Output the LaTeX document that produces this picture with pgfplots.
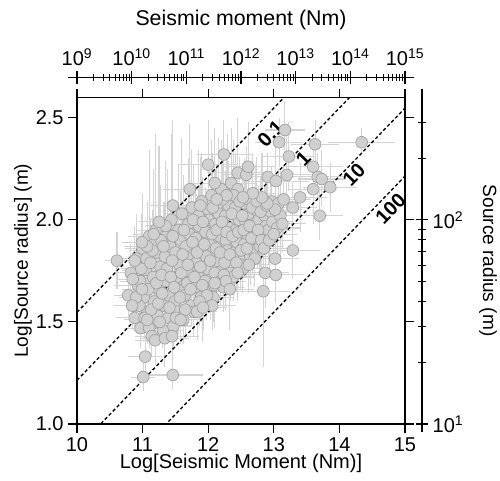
\documentclass[border=0pt]{standalone}
\usepackage{pgfplots}
\pgfplotsset{compat=1.18}
\usepackage{pgfplotstable}
\usepackage{fontspec}
\setmainfont{Liberation Sans}

\definecolor{ptfill}{RGB}{208,208,208}
\definecolor{ptedge}{RGB}{160,160,160}
\definecolor{errgray}{RGB}{212,212,212}
\newcommand{\tickfont}{\fontsize{15}{18}\selectfont}
\newcommand{\labfont}{\fontsize{14.3}{17}\selectfont}

% log moment, log radius, errors
\pgfplotstableread{
x y ex ey
10.78 1.63 0.15 0.08
10.82 1.74 0.20 0.12
10.86 1.58 0.25 0.06
10.91 1.81 0.18 0.20
10.93 1.68 0.30 0.10
10.88 1.52 0.22 0.05
10.97 1.47 0.20 0.08
11.02 1.62 0.25 0.15
11.05 1.75 0.30 0.10
11.00 1.86 0.20 0.25
11.08 1.55 0.18 0.07
11.04 1.70 0.22 0.18
11.10 1.92 0.26 0.40
11.06 1.81 0.35 0.12
11.14 1.49 0.20 0.06
11.18 1.60 0.30 0.12
11.16 1.72 0.25 0.20
11.22 1.84 0.28 0.15
11.20 1.95 0.22 0.45
11.25 1.66 0.30 0.10
11.23 1.53 0.20 0.08
11.27 1.77 0.35 0.22
11.19 1.89 0.20 0.12
11.31 1.46 0.25 0.07
11.33 1.58 0.30 0.10
11.36 1.70 0.22 0.15
11.34 1.82 0.28 0.25
11.38 1.93 0.30 0.30
11.40 1.63 0.25 0.12
11.37 1.76 0.20 0.10
11.42 1.87 0.32 0.20
11.39 1.52 0.20 0.06
11.44 2.00 0.25 0.40
11.47 1.48 0.20 0.08
11.49 1.60 0.30 0.12
11.52 1.72 0.25 0.18
11.50 1.84 0.35 0.20
11.55 1.95 0.28 0.30
11.53 1.66 0.22 0.10
11.56 1.78 0.30 0.15
11.58 1.90 0.25 0.22
11.54 1.55 0.30 0.09
11.60 2.03 0.20 0.35
11.62 1.51 0.25 0.10
11.64 1.63 0.30 0.12
11.67 1.75 0.22 0.20
11.66 1.87 0.30 0.18
11.70 1.98 0.28 0.30
11.68 1.69 0.25 0.15
11.72 1.81 0.32 0.12
11.71 1.93 0.20 0.20
11.74 1.58 0.28 0.08
11.75 2.06 0.30 0.26
11.78 1.55 0.25 0.10
11.80 1.67 0.30 0.14
11.82 1.79 0.20 0.20
11.81 1.91 0.30 0.25
11.85 2.02 0.26 0.30
11.84 1.73 0.28 0.12
11.87 1.85 0.33 0.15
11.86 1.97 0.22 0.18
11.89 1.62 0.30 0.10
11.90 2.09 0.25 0.22
11.93 1.58 0.25 0.10
11.95 1.70 0.30 0.12
11.97 1.82 0.22 0.22
11.96 1.94 0.30 0.20
12.00 2.05 0.28 0.28
11.99 1.76 0.30 0.15
12.02 1.88 0.25 0.16
12.01 2.00 0.22 0.20
12.04 1.65 0.28 0.12
12.05 2.12 0.30 0.25
12.08 1.62 0.25 0.10
12.10 1.74 0.30 0.14
12.12 1.86 0.22 0.20
12.11 1.98 0.30 0.25
12.15 2.08 0.26 0.30
12.14 1.80 0.28 0.12
12.17 1.92 0.33 0.15
12.16 2.03 0.22 0.18
12.19 1.70 0.30 0.10
12.20 2.15 0.25 0.22
12.23 1.67 0.25 0.10
12.25 1.79 0.30 0.12
12.27 1.90 0.22 0.22
12.26 2.02 0.30 0.20
12.30 2.12 0.28 0.28
12.29 1.85 0.30 0.15
12.32 1.96 0.25 0.16
12.31 2.07 0.22 0.20
12.34 1.74 0.28 0.12
12.35 2.18 0.30 0.25
12.38 1.72 0.25 0.10
12.40 1.84 0.30 0.14
12.42 1.95 0.22 0.20
12.41 2.06 0.30 0.25
12.45 2.15 0.26 0.30
12.44 1.89 0.28 0.12
12.47 2.00 0.33 0.15
12.49 1.78 0.30 0.10
12.53 1.76 0.25 0.10
12.55 1.88 0.30 0.12
12.57 1.99 0.22 0.22
12.56 2.08 0.30 0.20
12.60 1.93 0.28 0.15
12.62 2.03 0.25 0.16
12.64 1.82 0.28 0.12
12.68 1.85 0.25 0.10
12.70 1.96 0.30 0.14
12.72 2.05 0.22 0.20
12.75 1.90 0.28 0.12
12.77 2.00 0.33 0.15
12.79 1.87 0.30 0.10
12.83 1.93 0.25 0.10
12.86 2.02 0.30 0.12
12.88 1.97 0.22 0.22
12.92 1.95 0.28 0.15
12.95 2.04 0.25 0.16
12.98 1.99 0.25 0.10
13.05 1.96 0.30 0.14
13.10 2.02 0.22 0.20
10.95 1.58 0.20 0.10
10.98 1.76 0.25 0.12
11.03 1.52 0.20 0.08
11.09 1.66 0.30 0.14
11.12 1.79 0.25 0.20
11.13 1.56 0.20 0.10
11.15 1.85 0.30 0.18
11.21 1.69 0.25 0.12
11.24 1.59 0.30 0.10
11.28 1.90 0.25 0.25
11.29 1.73 0.20 0.15
11.30 1.64 0.28 0.10
11.32 1.87 0.30 0.20
11.35 1.97 0.25 0.30
11.41 1.57 0.30 0.10
11.43 1.72 0.25 0.15
11.45 1.80 0.30 0.18
11.46 1.92 0.25 0.22
11.48 1.67 0.30 0.12
11.51 1.52 0.25 0.08
11.57 1.62 0.30 0.12
11.59 1.74 0.22 0.15
11.61 1.83 0.30 0.20
11.63 1.95 0.25 0.25
11.65 1.56 0.30 0.10
11.69 1.78 0.25 0.15
11.73 1.66 0.30 0.12
11.76 1.89 0.25 0.18
11.77 2.00 0.30 0.25
11.79 1.72 0.25 0.12
11.83 1.84 0.30 0.15
11.88 1.77 0.25 0.15
11.91 1.68 0.30 0.12
11.92 1.99 0.25 0.20
11.94 1.88 0.30 0.18
11.98 1.63 0.25 0.10
12.03 1.80 0.30 0.15
12.06 1.93 0.25 0.20
12.07 2.06 0.30 0.25
12.09 1.68 0.25 0.12
12.13 1.95 0.30 0.15
12.18 1.84 0.25 0.15
12.21 1.99 0.30 0.20
12.22 2.10 0.25 0.22
12.24 1.73 0.30 0.12
12.28 1.94 0.25 0.15
12.33 1.83 0.30 0.15
12.36 2.03 0.25 0.20
12.37 1.92 0.30 0.15
12.39 2.12 0.25 0.25
12.43 1.79 0.30 0.12
12.46 1.94 0.25 0.15
12.48 2.09 0.30 0.20
12.50 1.85 0.25 0.12
12.52 2.02 0.30 0.18
12.54 1.95 0.25 0.15
12.59 1.86 0.30 0.12
12.61 2.10 0.25 0.20
12.63 1.97 0.30 0.15
12.66 1.91 0.25 0.12
12.67 2.06 0.30 0.18
12.71 1.81 0.25 0.12
12.74 2.09 0.30 0.20
12.76 1.95 0.25 0.15
12.80 2.04 0.30 0.15
12.81 1.90 0.25 0.12
12.85 1.86 0.30 0.12
12.89 2.07 0.25 0.15
12.93 1.90 0.30 0.12
12.97 2.09 0.25 0.15
13.00 1.93 0.30 0.12
13.07 2.08 0.25 0.15
13.13 1.98 0.30 0.12
13.15 2.10 0.35 0.15
11.10 1.47 0.20 0.08
11.26 1.50 0.25 0.08
11.58 1.51 0.30 0.10
11.87 1.60 0.25 0.10
12.06 1.58 0.30 0.10
12.27 1.70 0.25 0.12
12.45 1.74 0.30 0.12
12.62 1.78 0.25 0.12
10.90 1.62 0.20 0.10
10.96 1.70 0.25 0.12
11.07 1.87 0.30 0.20
11.17 1.93 0.25 0.30
10.61 1.80 0.12 0.12
10.85 1.71 0.20 0.10
10.99 1.66 0.25 0.08
10.88 1.80 0.18 0.15
10.99 1.89 0.25 0.12
10.84 1.58 0.20 0.10
11.25 1.99 0.25 0.35
11.46 2.07 0.30 0.40
11.72 2.15 0.35 0.30
12.00 2.27 0.40 0.20
12.10 2.18 0.30 0.25
12.24 2.32 0.35 0.15
12.45 2.23 0.40 0.25
12.58 2.22 0.30 0.12
12.61 2.26 0.35 0.20
12.91 2.21 0.30 0.10
13.03 2.19 0.45 0.15
13.08 2.38 0.30 0.10
13.17 2.44 0.25 0.12
13.20 2.22 0.40 0.18
13.23 2.31 0.35 0.15
13.63 2.37 0.30 0.10
13.60 2.26 0.40 0.12
13.40 2.11 0.35 0.15
13.29 2.06 0.30 0.10
13.02 2.05 0.35 0.12
12.90 2.08 0.30 0.15
12.82 2.11 0.35 0.20
12.68 2.13 0.30 0.18
12.53 2.11 0.35 0.15
12.28 2.12 0.30 0.20
12.13 2.10 0.25 0.15
11.88 2.07 0.30 0.22
14.34 2.38 0.45 0.05
13.67 2.21 0.35 0.10
13.73 2.20 0.30 0.12
13.86 2.16 0.35 0.10
13.60 2.15 0.30 0.15
13.70 2.02 0.30 0.10
12.84 1.65 0.35 0.35
12.87 1.74 0.30 0.15
13.03 1.73 0.35 0.12
13.02 1.81 0.30 0.10
13.29 1.85 0.35 0.12
11.83 1.55 0.25 0.12
11.92 1.57 0.30 0.15
12.10 1.69 0.30 0.20
12.33 1.66 0.30 0.18
11.04 1.33 0.20 0.08
11.01 1.23 0.12 0.05
11.46 1.24 0.40 0.05
11.07 1.51 0.30 0.10
11.14 1.43 0.20 0.08
11.19 1.41 0.25 0.10
11.34 1.42 0.30 0.12
11.45 1.43 0.35 0.10
}\quakes

\begin{document}
\begin{tikzpicture}
\useasboundingbox (-57.75pt,-42.75pt) rectangle (317.25pt,318pt);

% main panel
\begin{axis}[
    at={(0,0)}, anchor=south west,
    scale only axis, width=246pt, height=245pt,
    xmin=10, xmax=15, ymin=1, ymax=2.6,
    xtick={10,11,12,13,14,15}, ytick={1,1.5,2,2.5},
    yticklabel style={/pgf/number format/fixed, /pgf/number format/fixed zerofill, /pgf/number format/precision=1},
    /pgf/number format/assume math mode=true,
    tick align=outside, major tick length=6.5pt,
    tick style={black, line width=0.8pt},
    axis line style={line width=1.1pt},
    tick label style={font=\tickfont},
    label style={font=\labfont},
    xlabel={Log[Seismic Moment (Nm)]},
    ylabel={Log[Source radius] (m)},
    xlabel style={font=\tickfont, at={(axis description cs:0.5,-0.1194)}, anchor=center},
    ylabel style={at={(axis description cs:-0.1646,0.5)}, anchor=center},
]
\addplot[only marks, mark=*, mark size=4.4pt,
    mark options={fill=ptfill, draw=ptedge, line width=0.5pt},
    error bars/.cd, x dir=both, x explicit, y dir=both, y explicit,
    error bar style={draw=errgray, line width=0.8pt},
    error mark options={draw=errgray, line width=0.8pt, mark size=3pt}]
    table[x=x, y=y, x error=ex, y error=ey] {\quakes};

% constant stress drop lines
\addplot[black, line width=1pt, dash pattern=on 2.5pt off 1.8pt] coordinates {(10,1.547) (15,3.214)};
\addplot[black, line width=1pt, dash pattern=on 2.5pt off 1.8pt] coordinates {(10,1.214) (15,2.881)};
\addplot[black, line width=1pt, dash pattern=on 2.5pt off 1.8pt] coordinates {(10,0.880) (15,2.547)};
\addplot[black, line width=1pt, dash pattern=on 2.5pt off 1.8pt] coordinates {(10,0.547) (15,2.214)};
\node[rotate=46, inner sep=0pt, font=\tickfont\bfseries] at (axis cs:12.95,2.42) {0.1};
\node[rotate=46, inner sep=0pt, font=\tickfont\bfseries] at (axis cs:13.45,2.30) {1};
\node[rotate=46, inner sep=0pt, font=\tickfont\bfseries] at (axis cs:14.22,2.22) {10};
\node[rotate=46, inner sep=0pt, font=\tickfont\bfseries] at (axis cs:14.78,2.055) {100};
\end{axis}

% top scale: seismic moment
\begin{axis}[
    at={(0,0)}, anchor=south west,
    scale only axis, width=246pt, height=260pt,
    xmode=log, xmin=1e9, xmax=1e15, ymin=0, ymax=1,
    axis x line*=top, axis y line=none,
    xtick={1e9,1e10,1e11,1e12,1e13,1e14,1e15},
    xticklabels={10\textsuperscript{9},10\textsuperscript{10},10\textsuperscript{11},10\textsuperscript{12},10\textsuperscript{13},10\textsuperscript{14},10\textsuperscript{15}},
    minor xtick={2e9,3e9,4e9,5e9,6e9,7e9,8e9,9e9,
        2e10,3e10,4e10,5e10,6e10,7e10,8e10,9e10,
        2e11,3e11,4e11,5e11,6e11,7e11,8e11,9e11,
        2e12,3e12,4e12,5e12,6e12,7e12,8e12,9e12,
        2e13,3e13,4e13,5e13,6e13,7e13,8e13,9e13,
        2e14,3e14,4e14,5e14,6e14,7e14,8e14,9e14},
    tick align=center, major tick length=10pt, minor tick length=5pt,
    tick style={black, line width=0.8pt},
    x axis line style={-, line width=1pt, shorten <=-7pt, shorten >=-7pt},
    tick label style={font=\tickfont},
    xlabel={Seismic moment (Nm)},
    xlabel style={font=\fontsize{16}{19}\selectfont, at={(axis description cs:0.5,1.1644)}, anchor=center},
]
\end{axis}

% right scale: source radius
\begin{axis}[
    at={(0,0)}, anchor=south west,
    scale only axis, width=258.75pt, height=245pt,
    ymode=log, ymin=10, ymax=398.1, xmin=0, xmax=1,
    axis y line*=right, axis x line=none,
    ytick={10,100},
    yticklabels={10\textsuperscript{1},10\textsuperscript{2}},
    minor ytick={20,30,40,50,60,70,80,90,200,300},
    tick align=center, major tick length=9pt, minor tick length=6pt,
    tick style={black, line width=0.8pt},
    y axis line style={-, line width=1pt, shorten <=-6pt, shorten >=-6pt},
    tick label style={font=\tickfont},
    label style={font=\labfont},
    ylabel={Source radius (m)},
    ylabel style={at={(axis description cs:1.1913,0.5)}, anchor=center, rotate=180},
]
\end{axis}
\end{tikzpicture}
\end{document}
